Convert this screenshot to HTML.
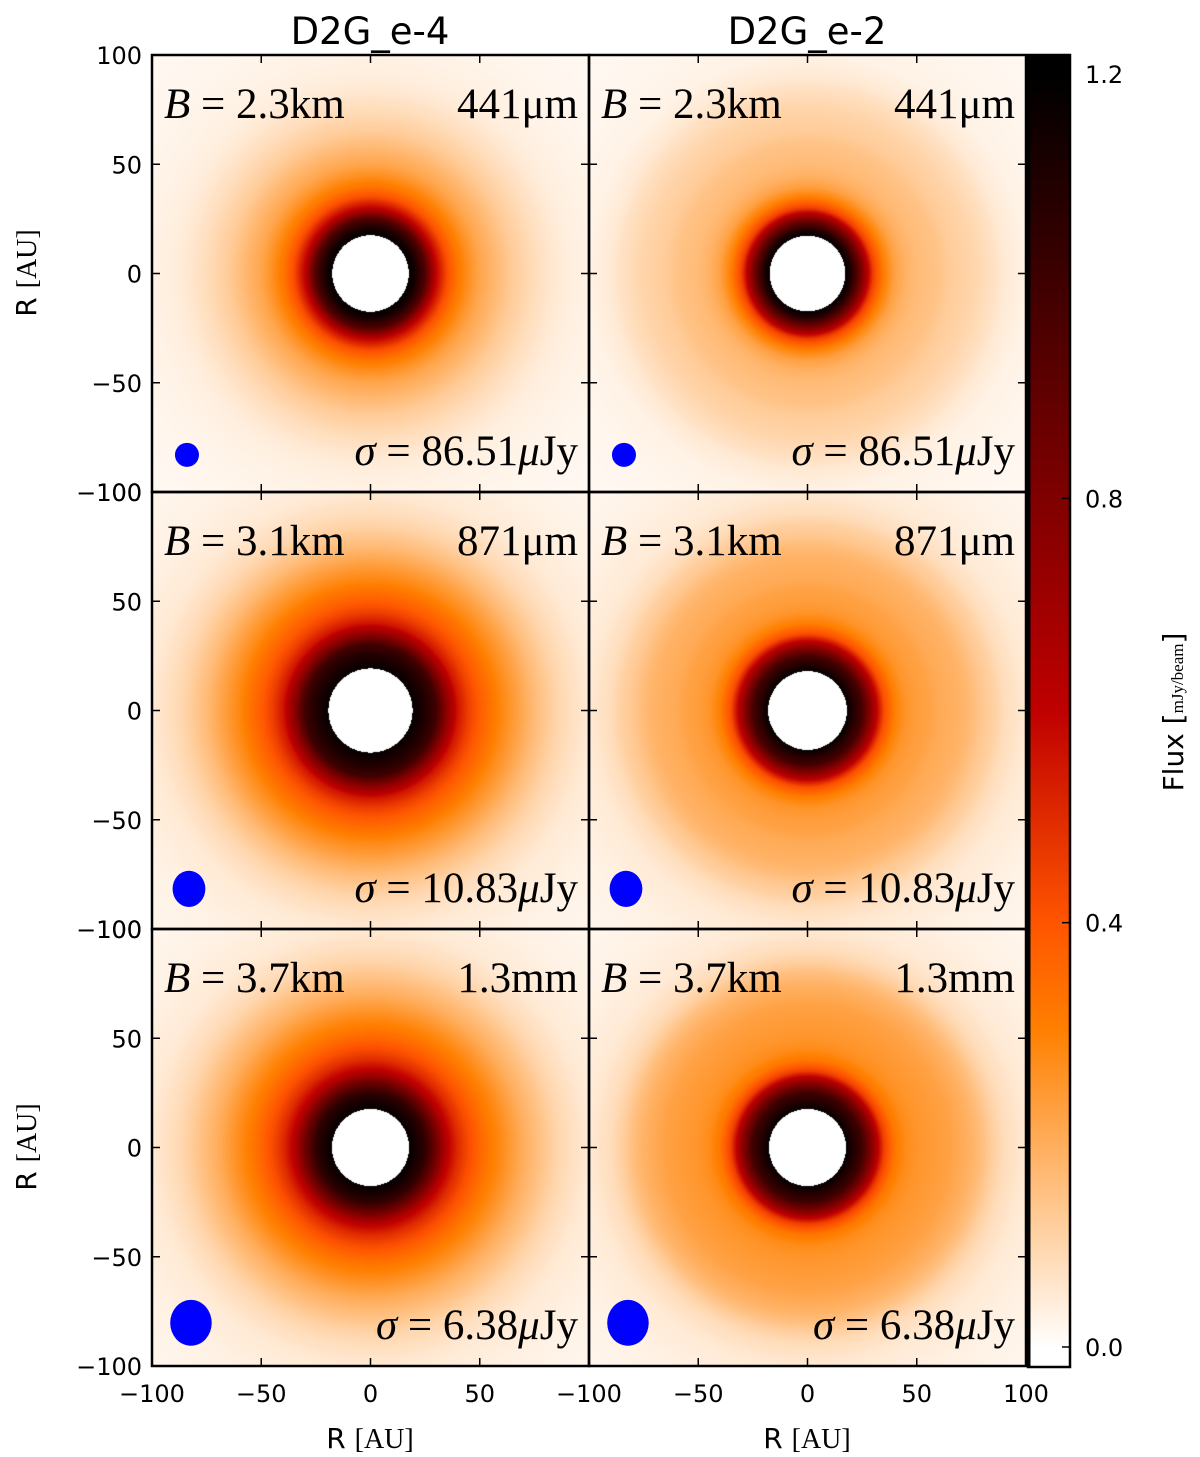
<!DOCTYPE html>
<html><head><meta charset="utf-8"><style>
body{margin:0;background:#fff;width:1200px;height:1457px;position:relative;overflow:hidden}
canvas{position:absolute}
svg{position:absolute;left:0;top:0}
.t{font-family:"DejaVu Sans","Liberation Sans",sans-serif;font-size:24px;fill:#000}
.s{font-family:"Liberation Serif",serif;font-size:43px;fill:#000}
</style></head><body>
<canvas id="p0" width="437" height="437" style="left:152px;top:55px"></canvas>
<canvas id="p1" width="437" height="437" style="left:589px;top:55px"></canvas>
<canvas id="p2" width="437" height="437" style="left:152px;top:492px"></canvas>
<canvas id="p3" width="437" height="437" style="left:589px;top:492px"></canvas>
<canvas id="p4" width="437" height="437" style="left:152px;top:929px"></canvas>
<canvas id="p5" width="437" height="437" style="left:589px;top:929px"></canvas>
<canvas id="cb" width="41" height="1312" style="left:1029px;top:55px"></canvas>
<svg id="ov" width="1200" height="1457"></svg>
<script>
const radii=[0,10,15,18,20,25,30,35,40,45,50,55,60,65,70,75,80,85,90,100,120,145];
const fluxLT=[2,1.6,1.3,1.18,1.15,0.95,0.6,0.42,0.32,0.26,0.21,0.18,0.15,0.12,0.1,0.08,0.065,0.05,0.04,0.03,0.02,0.015];
const fluxRT=[2,1.6,1.3,1.17,1.1,0.8,0.45,0.3,0.22,0.18,0.16,0.15,0.14,0.12,0.11,0.1,0.085,0.07,0.05,0.03,0.02,0.015];
const fluxLM=[2,1.8,1.5,1.25,1.17,1.1,1.0,0.75,0.55,0.45,0.38,0.33,0.28,0.24,0.2,0.16,0.13,0.1,0.08,0.05,0.03,0.02];
const fluxRM=[2,1.75,1.4,1.2,1.12,0.98,0.7,0.42,0.3,0.25,0.23,0.22,0.2,0.19,0.18,0.16,0.13,0.11,0.08,0.05,0.03,0.02];
const fluxLB=[2,1.7,1.35,1.18,1.15,1.05,0.85,0.62,0.5,0.42,0.36,0.31,0.27,0.23,0.19,0.16,0.13,0.1,0.08,0.05,0.03,0.02];
const fluxRB=[2,1.7,1.35,1.18,1.12,1.0,0.75,0.45,0.32,0.27,0.25,0.24,0.23,0.22,0.2,0.18,0.15,0.11,0.08,0.05,0.03,0.02];
const baselines=["2.3","3.1","3.7"];
const wavelengths=["441\u03bcm","871\u03bcm","1.3mm"];
const sigmas=["86.51","10.83","6.38"];
const beamRx=[5.5,7.5,9.5];
const beamRy=[5.5,8.3,10.5];
const axisTicks=[-100,-50,0,50,100];
const cbTicks=[0.0,0.4,0.8,1.2];
const VMAX=1.2;
const profiles=[fluxLT,fluxRT,fluxLM,fluxRM,fluxLB,fluxRB];

const S=437/200;
function cmap(v){
  if(v>VMAX) return [255,255,255];
  let x=1-Math.max(0,v)/VMAX;
  const c=a=>Math.round(255*Math.min(1,Math.max(0,a)));
  return [c(1.5*x),c(2*x-1),c(4*x-3)];
}
function interp(arr,r){
  for(let i=1;i<radii.length;i++){ if(r<=radii[i]){const t=(r-radii[i-1])/(radii[i]-radii[i-1]);return arr[i-1]+t*(arr[i]-arr[i-1]);}}
  return arr[arr.length-1];
}
profiles.forEach((pr,k)=>{
  const cv=document.getElementById('p'+k),ctx=cv.getContext('2d');
  const img=ctx.createImageData(437,437);
  for(let y=0;y<437;y++)for(let x=0;x<437;x++){
    const ax=(x+0.5)/S-100, ay=100-(y+0.5)/S;
    const col=cmap(interp(pr,Math.hypot(ax,ay)));
    const o=(y*437+x)*4;img.data[o]=col[0];img.data[o+1]=col[1];img.data[o+2]=col[2];img.data[o+3]=255;
  }
  ctx.putImageData(img,0,0);
});
(function(){
  const cv=document.getElementById('cb'),ctx=cv.getContext('2d');
  const y0=1292,y1=19;
  for(let y=0;y<1312;y++){
    let v=(y0-y)/(y0-y1)*VMAX;
    let col=v>VMAX?[0,0,0]:cmap(Math.max(0,v));
    ctx.fillStyle=`rgb(${col})`;ctx.fillRect(0,y,41,1);
  }
})();
const NS="http://www.w3.org/2000/svg",ov=document.getElementById('ov');
function el(tag,attrs,txt){const e=document.createElementNS(NS,tag);for(const k in attrs)e.setAttribute(k,attrs[k]);if(txt!==undefined)e.textContent=txt;ov.appendChild(e);return e;}
const colX=[152,589],rowY=[55,492,929];
function px(v,x0){return x0+(v+100)*S;}
function py(v,y0){return y0+(100-v)*S;}
for(let r=0;r<3;r++)for(let c=0;c<2;c++){
  const x0=colX[c],y0=rowY[r];
  const fr=el('rect',{x:x0,y:y0,width:437,height:437,fill:'none',stroke:'#000','stroke-width':2.5});
  
  
  axisTicks.forEach(t=>{
    const X=px(t,x0),Y=py(t,y0);
    el('line',{x1:X,y1:y0,x2:X,y2:y0+8,stroke:'#000','stroke-width':1.5});
    el('line',{x1:X,y1:y0+437,x2:X,y2:y0+429,stroke:'#000','stroke-width':1.5});
    el('line',{x1:x0,y1:Y,x2:x0+8,y2:Y,stroke:'#000','stroke-width':1.5});
    el('line',{x1:x0+437,y1:Y,x2:x0+429,y2:Y,stroke:'#000','stroke-width':1.5});
  });
  const b=el('ellipse',{cx:px(-84,x0)+(r*2),cy:py(-83,y0)-r*3,rx:beamRx[r]*S,ry:beamRy[r]*S,fill:'#0000ff'});
  
  
  const t1=el('text',{x:x0+12,y:y0+63,class:'s'});
  
  
  t1.innerHTML='<tspan font-style="italic">B</tspan> = '+baselines[r]+'km';
  const t2=el('text',{x:x0+426,y:y0+63,class:'s','text-anchor':'end'},wavelengths[r]);
  
  
  const t3=el('text',{x:x0+426,y:y0+410,class:'s','text-anchor':'end'});
  
  
  t3.innerHTML='<tspan font-style="italic">σ</tspan> = '+sigmas[r]+'<tspan font-style="italic">μ</tspan>Jy';
  if(c===0){
    axisTicks.forEach(t=>{
      const lab=el('text',{x:x0-10,y:py(t,y0)+9,class:'t','text-anchor':'end'},t<0?'\u2212'+(-t):''+t);
      
      
    });
  }
}
[0,1].forEach(c=>{
  axisTicks.forEach(t=>{
    if(c===0&&t===100)return;
    const lab=el('text',{x:px(t,colX[c]),y:1402,class:'t','text-anchor':'middle'},t<0?'\u2212'+(-t):''+t);
    
    
  });
  const xl=el('text',{x:colX[c]+218,y:1448,class:'t','text-anchor':'middle',style:'font-size:28px'});
  
  
  xl.innerHTML='R <tspan font-family="Liberation Serif">[AU]</tspan>';
  const ti=el('text',{x:colX[c]+218,y:44,class:'t','text-anchor':'middle'},c===0?'D2G_e-4':'D2G_e-2');
  ti.setAttribute('style','font-size:37px');
  
  
});
[0,2].forEach(r=>{
  const cy=rowY[r]+218;
  const yl=el('text',{x:0,y:0,class:'t','text-anchor':'middle',style:'font-size:28px',transform:`translate(36,${cy}) rotate(-90)`});
  
  
  yl.innerHTML='R <tspan font-family="Liberation Serif">[AU]</tspan>';
});
const cbf=el('rect',{x:1028,y:55,width:42,height:1312,fill:'none',stroke:'#000','stroke-width':2.5});


el('line',{x1:1029,y1:55,x2:1029,y2:1367,stroke:'#000','stroke-width':3});
cbTicks.forEach(t=>{
  const Y=55+1292-(t/VMAX)*1273;
  el('line',{x1:1070,y1:Y,x2:1062,y2:Y,stroke:'#000','stroke-width':1.5});
  const lab=el('text',{x:1085,y:Y+9,class:'t'},t.toFixed(1));
  
  
});
const cl=el('text',{x:0,y:0,class:'t','text-anchor':'middle',style:'font-size:28px',transform:'translate(1183,712) rotate(-90)'});


cl.innerHTML='Flux [<tspan font-family="Liberation Serif" font-size="17">mJy/beam</tspan>]';
</script>
</body></html>
